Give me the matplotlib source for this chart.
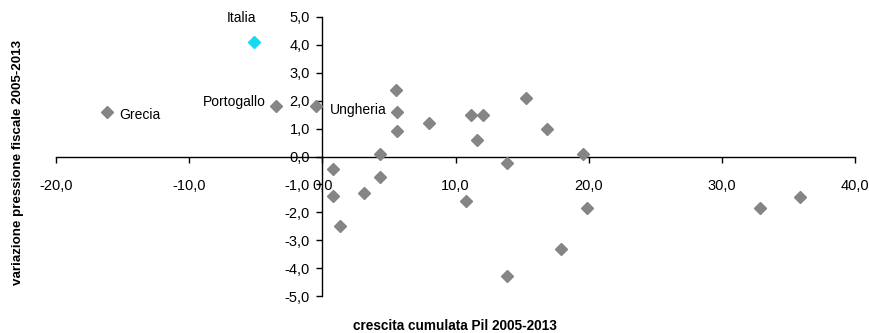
import matplotlib.pyplot as plt
from matplotlib.ticker import FuncFormatter

plt.rcParams['font.family'] = ['Liberation Sans', 'DejaVu Sans']

# crescita cumulata Pil 2005-2013 (x) e variazione pressione fiscale (y)
paesi_x = [-5.1, -16.2, -3.5, -0.5,
           5.5, 5.6, 5.6, 8.0, 4.3, 0.8, 4.3, 0.8, 3.1, 1.3,
           10.8, 11.2, 12.1, 11.6, 13.9, 13.9, 15.3, 16.9, 17.9,
           19.6, 19.9, 32.9, 35.9]
paesi_y = [4.1, 1.6, 1.8, 1.8,
           2.4, 1.6, 0.9, 1.2, 0.1, -0.45, -0.75, -1.4, -1.3, -2.5,
           -1.6, 1.5, 1.5, 0.6, -0.25, -4.3, 2.1, 1.0, -3.3,
           0.1, -1.85, -1.85, -1.45]
nomi = ['Italia', 'Grecia', 'Portogallo', 'Ungheria']
offsets = [(-9, 17), (9, -2), (-7, 3), (10, -3)]
allineamento = ['center', 'left', 'right', 'left']
colori = ['#1ad8f2'] + ['#858585'] * (len(paesi_x) - 1)

fig = plt.figure(figsize=(8.69, 3.33), dpi=100)
ax = fig.add_axes([56 / 869, 37 / 333, 799 / 869, 279 / 333])

for x, y, c in zip(paesi_x, paesi_y, colori):
    ax.plot(x, y, marker='D', ms=6, color=c, mec=c, ls='none', zorder=3)

for i, nome in enumerate(nomi):
    ax.annotate(nome, (paesi_x[i], paesi_y[i]), xytext=offsets[i],
                textcoords='offset points', ha=allineamento[i], va='center',
                fontsize=10)

ax.set_xlim(-20, 40)
ax.set_ylim(-5, 5)
ax.set_xticks([-20, -10, 0, 10, 20, 30, 40])
ax.set_yticks(range(-5, 6))
fmt = FuncFormatter(lambda v, p: f'{v:.1f}'.replace('.', ','))
ax.xaxis.set_major_formatter(fmt)
ax.yaxis.set_major_formatter(fmt)

ax.spines['left'].set_position(('data', 0))
ax.spines['bottom'].set_position(('data', 0))
ax.spines['top'].set_visible(False)
ax.spines['right'].set_visible(False)
for s in ('left', 'bottom'):
    ax.spines[s].set_linewidth(1.0)
ax.tick_params(axis='x', direction='out', length=4, width=1, pad=12, labelsize=10.5)
ax.tick_params(axis='y', direction='out', length=4, width=1, pad=5, labelsize=10.5)

fig.text(455 / 869, 1 - 326 / 333, 'crescita cumulata Pil 2005-2013',
         ha='center', va='center', fontsize=9.8, fontweight='bold')
fig.text(18 / 869, 1 - 162 / 333, 'variazione pressione fiscale 2005-2013',
         ha='center', va='center', rotation=90, fontsize=9.6, fontweight='bold')

fig.savefig('out.png', dpi=100)
